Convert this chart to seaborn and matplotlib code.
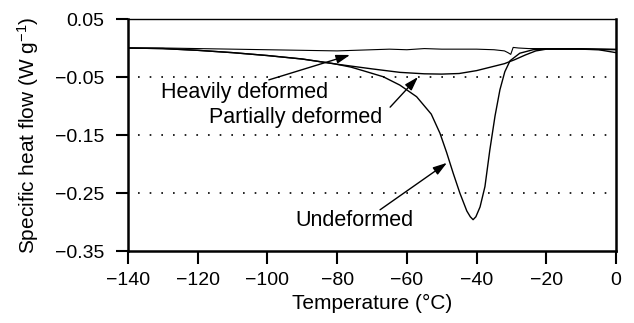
import matplotlib
matplotlib.use("Agg")
import matplotlib.pyplot as plt
import seaborn as sns
import pandas as pd

# ---- data ----
temp_heavy = [-140, -130, -120, -110, -100, -90, -80, -75, -70, -65, -60, -55, -50,
              -45, -40, -35, -32, -31, -30.2, -29.5, -28, -25, -20, -10, 0]
flow_heavy = [0.000, 0.000, -0.001, -0.002, -0.003, -0.004, -0.005, -0.004, -0.003,
              -0.002, -0.003, -0.001, -0.002, -0.002, -0.002, -0.003, -0.005, -0.008,
              -0.011, 0.001, 0.000, -0.001, -0.001, -0.001, -0.002]

temp_partial = [-140, -130, -120, -110, -100, -90, -80, -70, -62, -55, -50, -45, -40,
                -36, -32, -29, -26, -23, -20, -10, 0]
flow_partial = [0.000, -0.001, -0.004, -0.008, -0.013, -0.019, -0.028, -0.036, -0.042,
                -0.0445, -0.045, -0.044, -0.039, -0.033, -0.027, -0.020, -0.012, -0.005,
                -0.002, -0.002, -0.003]

temp_undef = [-140, -130, -120, -110, -100, -90, -81, -76, -71.5, -66.8, -62, -57.2, -53,
              -50.5, -48.6, -46.7, -44.8, -42.8, -41.8, -41.0, -40.2, -39, -37.6, -36.2,
              -34.7, -33.3, -31.9, -30.4, -27.6, -23.8, -20, -10, -5, -2, 0]
flow_undef = [0.000, -0.001, -0.004, -0.008, -0.013, -0.019, -0.027, -0.033, -0.041,
              -0.0495, -0.064, -0.084, -0.114, -0.147, -0.180, -0.216, -0.250, -0.281,
              -0.291, -0.296, -0.291, -0.274, -0.239, -0.176, -0.117, -0.072, -0.041,
              -0.022, -0.009, -0.003, -0.002, -0.002, -0.003, -0.006, -0.008]

x_ticks = [-140, -120, -100, -80, -60, -40, -20, 0]
y_ticks = [0.05, -0.05, -0.15, -0.25, -0.35]
grid_levels = [-0.05, -0.15, -0.25]

labels = ["Heavily deformed", "Partially deformed", "Undeformed"]
label_pos = [(-130.5, -0.077), (-116.8, -0.119), (-92.1, -0.2966)]
arrow_tail = [(-99.6, -0.055), (-64.8, -0.102), (-67.7, -0.279)]
arrow_tip = [(-76.3, -0.012), (-56.8, -0.050), (-48.5, -0.198)]

# ---- style ----
sns.set_theme(style="ticks")
plt.rcParams["font.family"] = ["Liberation Sans", "DejaVu Sans"]
plt.rcParams["mathtext.fontset"] = "custom"
plt.rcParams["mathtext.rm"] = "Liberation Sans"
plt.rcParams["mathtext.it"] = "Liberation Sans:italic"

fig = plt.figure(figsize=(6.34, 3.23), dpi=100)
ax = fig.add_axes([128 / 634, 1 - 251 / 323, 488 / 634, 232 / 323])

df = pd.concat([
    pd.DataFrame({"T": temp_heavy, "Q": flow_heavy, "s": "heavy"}),
    pd.DataFrame({"T": temp_partial, "Q": flow_partial, "s": "partial"}),
    pd.DataFrame({"T": temp_undef, "Q": flow_undef, "s": "undef"}),
])
for name, lw in [("heavy", 0.8), ("partial", 1.0), ("undef", 1.0)]:
    sub = df[df["s"] == name]
    sns.lineplot(data=sub, x="T", y="Q", ax=ax, color="black", linewidth=lw,
                 sort=False, estimator=None, legend=False)

ax.hlines(grid_levels, -137, -2, colors="black", linestyles=(0, (1, 6)), linewidth=1.2)

for lab, (tx, ty), tail, tip in zip(labels, label_pos, arrow_tail, arrow_tip):
    ax.text(tx, ty, lab, ha="left", va="center", fontsize=15.5, color="black")
    ax.annotate("", xy=tip, xytext=tail,
                arrowprops=dict(arrowstyle="-|>,head_length=0.7,head_width=0.22",
                                color="black", lw=1.0, shrinkA=0, shrinkB=0))

ax.set_xlim(-140, 0)
ax.set_ylim(-0.35, 0.05)
ax.set_xticks(x_ticks)
ax.set_xticklabels([f"{v}".replace("-", "\u2212") for v in x_ticks])
ax.set_yticks(y_ticks)
ax.set_yticklabels([f"{v:.2f}".replace("-", "\u2212") for v in y_ticks])
ax.tick_params(axis="both", direction="out", length=9, width=1.5, labelsize=14,
               color="black", labelcolor="black")
ax.tick_params(axis="y", pad=8)
ax.tick_params(axis="x", pad=6)

for side in ["left", "bottom", "right"]:
    ax.spines[side].set_linewidth(1.8)
    ax.spines[side].set_color("black")
ax.spines["top"].set_linewidth(1.0)
ax.spines["top"].set_color("black")
ax.spines["top"].set_visible(True)
ax.spines["right"].set_visible(True)

ax.set_xlabel("Temperature (°C)", fontsize=15, color="black")
ax.set_ylabel("Specific heat flow (W g$^{-1}$)", fontsize=15, color="black")
ax.xaxis.set_label_coords(0.5, (251 - 303) / 232, transform=ax.transAxes)
ax.xaxis.label.set_va("center")
ax.yaxis.set_label_coords((28 - 128) / 488, 0.5, transform=ax.transAxes)
ax.yaxis.label.set_va("center")
ax.grid(False)

fig.savefig("out.png", dpi=100)
